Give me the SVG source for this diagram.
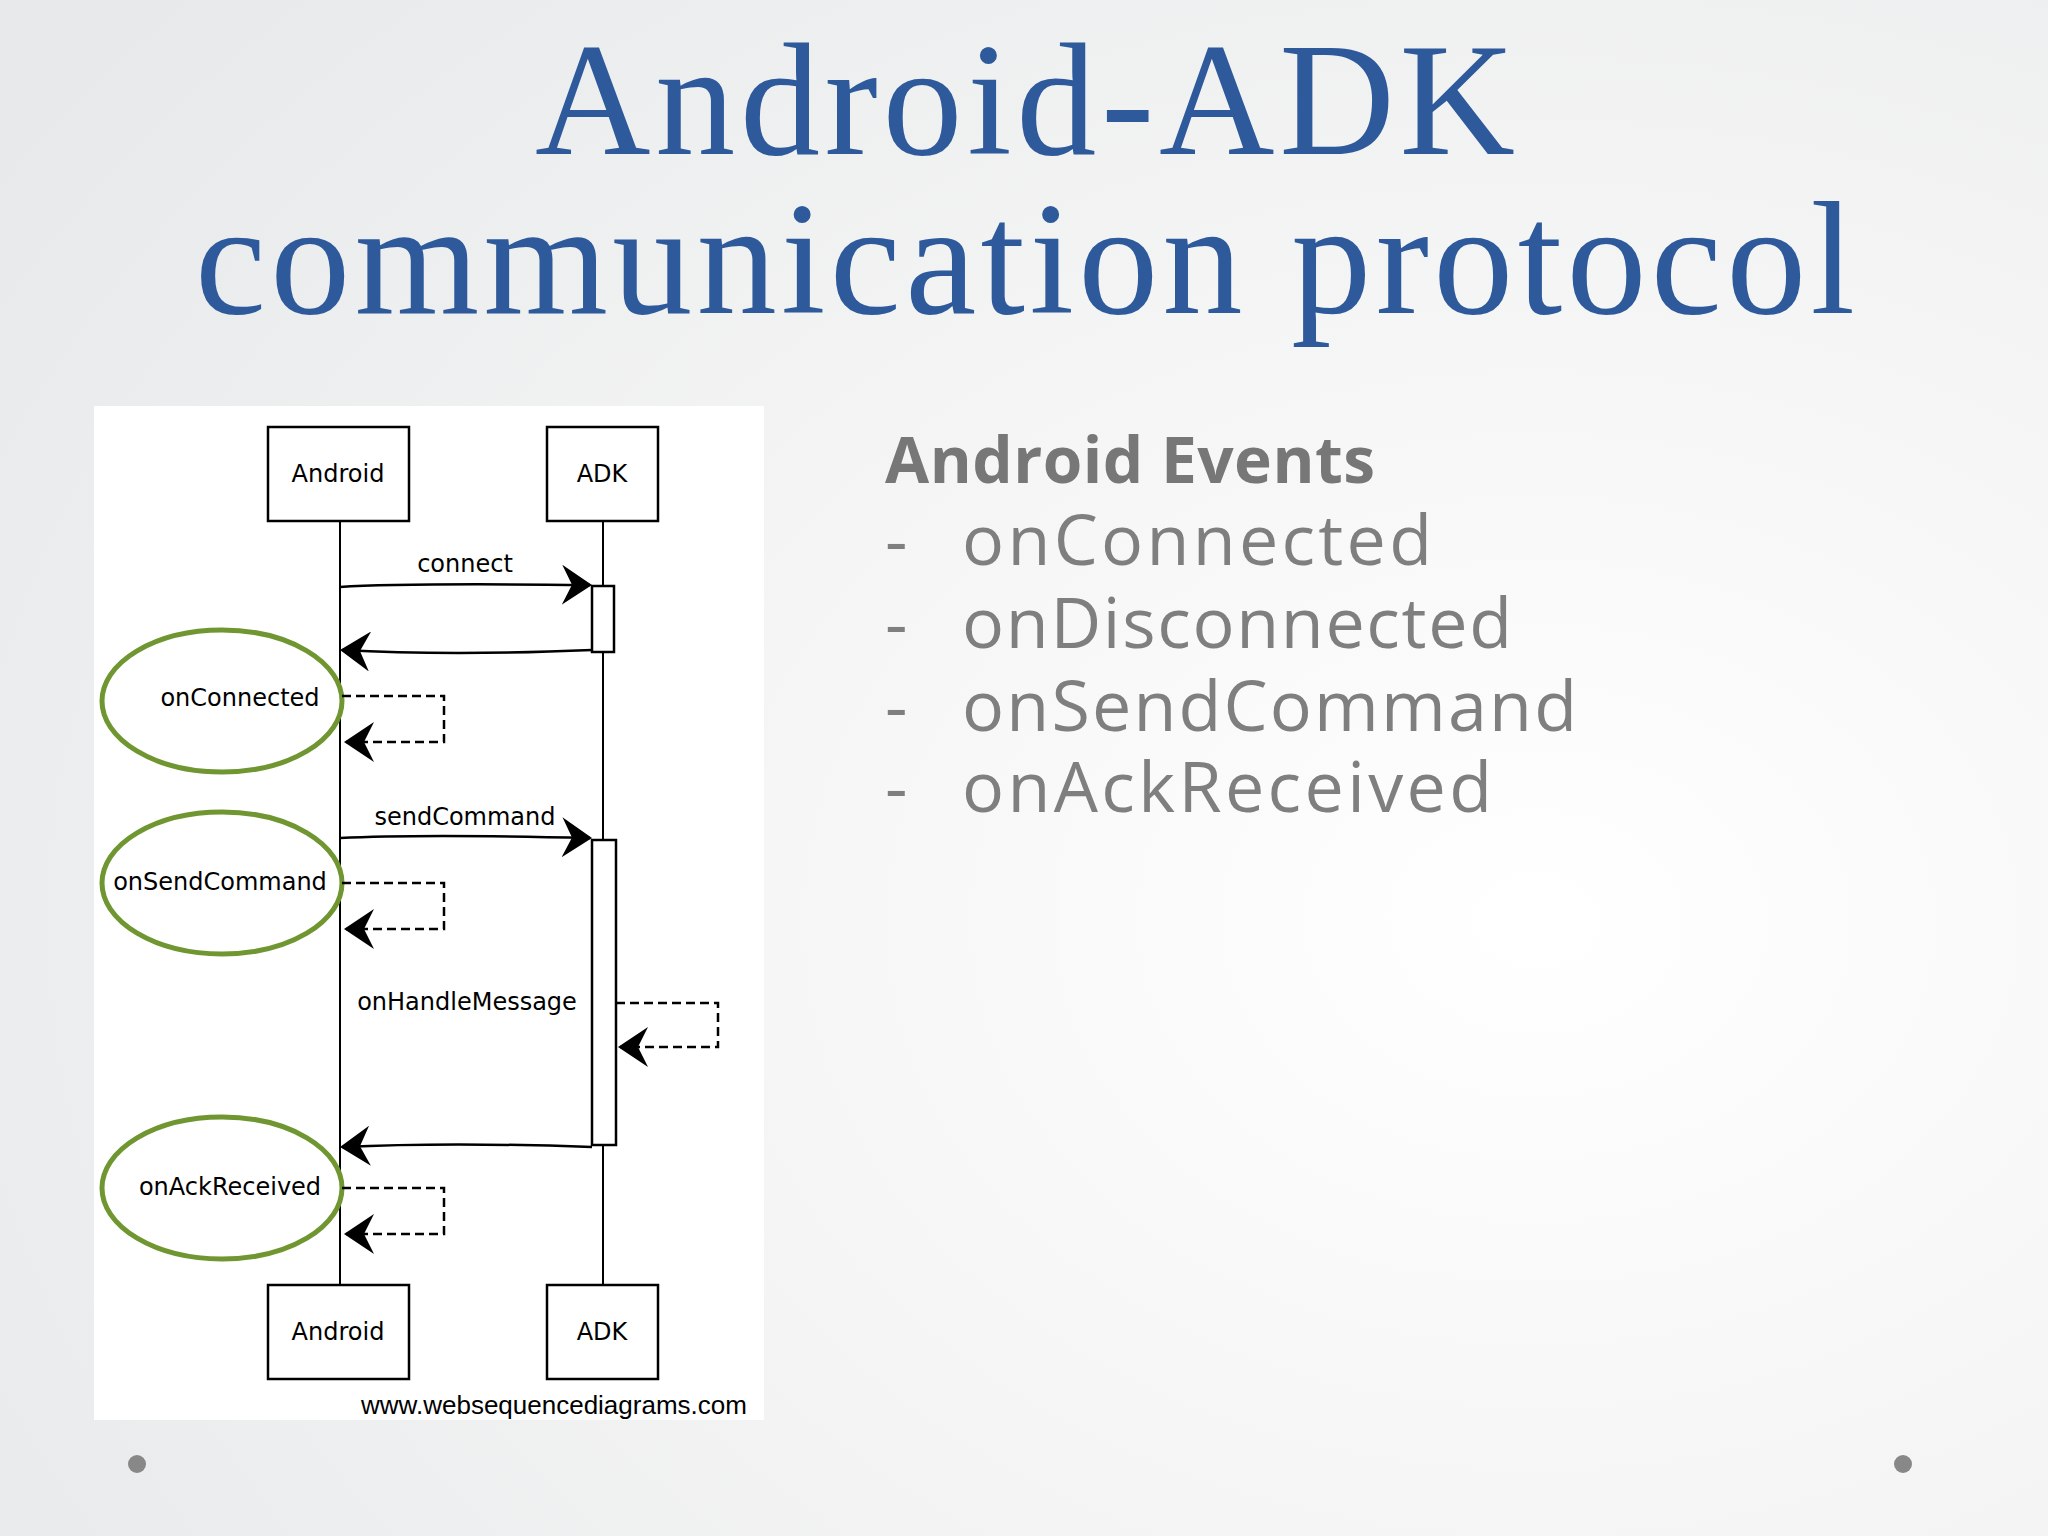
<svg xmlns="http://www.w3.org/2000/svg" width="2048" height="1536" viewBox="0 0 2048 1536">
<defs>
<radialGradient id="bg" cx="0.75" cy="0.6" r="0.9"><stop offset="0" stop-color="#ffffff"/><stop offset="1" stop-color="#e8e9ea"/></radialGradient>
<marker id="ah" viewBox="0 0 30 40" refX="28" refY="20" markerWidth="30" markerHeight="40" markerUnits="userSpaceOnUse" orient="auto"><path d="M0,0 L30,20 L0,40 L10,20 Z" fill="#000"/></marker>
<style>
.t{font-family:"Liberation Serif",serif;fill:#2e5a9c}
.box{fill:#fff;stroke:#000;stroke-width:2.5}
.life{stroke:#000;stroke-width:2;fill:none}
.msg{stroke:#000;stroke-width:2.5;fill:none;marker-end:url(#ah)}
.dash{stroke:#000;stroke-width:2.5;fill:none;stroke-dasharray:9,5;marker-end:url(#ah)}
.hand{font-family:"Comic Sans MS","DejaVu Sans",sans-serif;font-size:24px;fill:#000}
.ell{fill:#fff;stroke:#6f9630;stroke-width:5}
.ev{font-family:"Open Sans","DejaVu Sans",sans-serif;fill:#7f7f7f;font-size:70px}
</style>
</defs>
<rect width="2048" height="1536" fill="url(#bg)"/>
<text class="t" x="1025" y="154" font-size="160" text-anchor="middle" textLength="980">Android-ADK</text>
<text class="t" x="1025" y="313" font-size="160" text-anchor="middle" textLength="1660">communication protocol</text>
<rect x="94" y="406" width="670" height="1014" fill="#fff"/>
<g id="lifelines">
<line class="life" x1="340" y1="521" x2="340" y2="1285"/>
<line class="life" x1="603" y1="521" x2="603" y2="1285"/>
</g>
<g id="activations">
<rect class="box" x="592" y="586" width="22" height="66"/>
<rect class="box" x="592" y="840" width="24" height="305"/>
</g>
<g id="android-top"><rect class="box" x="268" y="427" width="141" height="94"/><text class="hand" x="338" y="482" text-anchor="middle">Android</text></g>
<g id="adk-top"><rect class="box" x="547" y="427" width="111" height="94"/><text class="hand" x="602" y="482" text-anchor="middle">ADK</text></g>
<g id="android-bottom"><rect class="box" x="268" y="1285" width="141" height="94"/><text class="hand" x="338" y="1340" text-anchor="middle">Android</text></g>
<g id="adk-bottom"><rect class="box" x="547" y="1285" width="111" height="94"/><text class="hand" x="602" y="1340" text-anchor="middle">ADK</text></g>
<g id="e1"><ellipse class="ell" cx="222" cy="701" rx="120" ry="71"/><text class="hand" x="240" y="706" text-anchor="middle" font-size="22">onConnected</text></g>
<g id="e2"><ellipse class="ell" cx="222" cy="883" rx="120" ry="71"/><text class="hand" x="220" y="890" text-anchor="middle" font-size="22">onSendCommand</text></g>
<g id="e3"><ellipse class="ell" cx="222" cy="1188" rx="120" ry="71"/><text class="hand" x="230" y="1195" text-anchor="middle" font-size="22">onAckReceived</text></g>
<g id="connectors">
<path class="msg" d="M340,587 Q400,583 590,585"/>
<text class="hand" x="465" y="572" text-anchor="middle">connect</text>
<path class="msg" d="M592,650 Q450,656 342,650"/>
<path class="dash" d="M342,696 H444 V742 H346"/>
<path class="msg" d="M340,838 Q420,834 590,838"/>
<text class="hand" x="465" y="825" text-anchor="middle">sendCommand</text>
<path class="dash" d="M342,883 H444 V929 H346"/>
<text class="hand" x="467" y="1010" text-anchor="middle">onHandleMessage</text>
<path class="dash" d="M616,1003 H718 V1047 H620"/>
<path class="msg" d="M592,1147 Q450,1142 342,1147"/>
<path class="dash" d="M342,1188 H444 V1234 H346"/>
</g>
<text x="554" y="1414" font-family="Liberation Sans,sans-serif" font-size="26" text-anchor="middle" fill="#000">www.websequencediagrams.com</text>
<text x="885" y="483" font-family="Open Sans,DejaVu Sans,sans-serif" font-weight="bold" font-size="64" fill="#777" textLength="490">Android Events</text>
<g class="ev">
<text x="885" y="565">-</text><text x="962" y="565" textLength="470">onConnected</text>
<text x="885" y="648">-</text><text x="962" y="648" textLength="550">onDisconnected</text>
<text x="885" y="731">-</text><text x="962" y="731" textLength="615">onSendCommand</text>
<text x="885" y="812">-</text><text x="962" y="812" textLength="530">onAckReceived</text>
</g>
<circle cx="137" cy="1464" r="9" fill="#888"/>
<circle cx="1903" cy="1464" r="9" fill="#888"/>
</svg>
